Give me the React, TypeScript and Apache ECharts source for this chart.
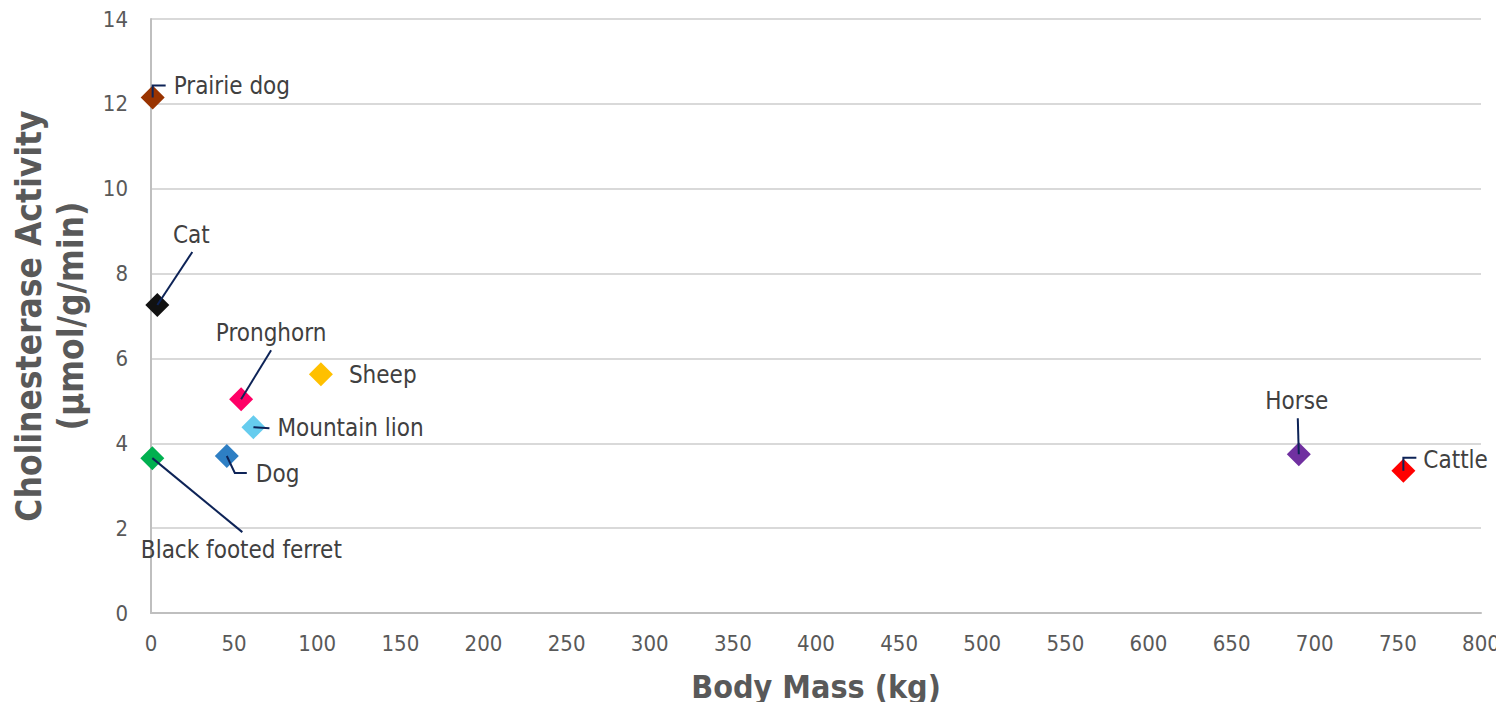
import React, { useEffect, useRef } from "react";
import * as echarts from "echarts";

const animals = [
  "Prairie dog",
  "Cat",
  "Pronghorn",
  "Sheep",
  "Mountain lion",
  "Dog",
  "Black footed ferret",
  "Horse",
  "Cattle",
];
const bodyMass = [1.0, 3.8, 54.2, 102.2, 61.6, 45.6, 0.8, 690.4, 753.3];
const activity = [12.15, 7.26, 5.04, 5.63, 4.38, 3.7, 3.65, 3.74, 3.35];
const colors = [
  "#993300",
  "#111111",
  "#ff0066",
  "#ffc000",
  "#66ccee",
  "#2e7fc4",
  "#00b050",
  "#7030a0",
  "#ff0000",
];

// label layout (pixel offsets from marker centre): text anchor + leader polyline
const labelAlign = ["left", "center", "center", "left", "left", "left", "center", "center", "left"];
const labelDx = [21, 34, 30, 28, 24, 29, 89, -2, 20];
const labelDy = [-11, -70, -66, 1, 1, 18, 92, -53, -11];
const leaders: number[][][] = [
  [[0, 0], [0, -12], [13, -12]],
  [[0, 0], [35, -53]],
  [[0, 0], [30, -49]],
  [],
  [[0, 0], [16, 1]],
  [[0, 0], [8, 17], [20, 17]],
  [[0, 0], [90, 74]],
  [[0, 0], [-1, -36]],
  [[0, 0], [0, -13], [13, -13]],
];

const FONT = "'DejaVu Sans Condensed', 'DejaVu Sans', Tahoma, sans-serif";

export default function App() {
  const ref = useRef<HTMLDivElement>(null);
  useEffect(() => {
    if (!ref.current) return;
    const chart = echarts.init(ref.current, undefined, { renderer: "svg" });
    const points = bodyMass.map((x, i) => [x, activity[i]]);
    chart.setOption({
      animation: false,
      textStyle: { fontFamily: FONT },
      grid: { left: 151, right: 23, top: 19, bottom: 97, outerBoundsMode: "none", containLabel: false },
      xAxis: {
        type: "value",
        min: 0,
        max: 800,
        interval: 50,
        name: "Body Mass (kg)",
        nameLocation: "middle",
        nameGap: 58,
        nameTextStyle: { fontSize: 32, fontWeight: "bold", color: "#595959", fontFamily: FONT },
        axisLine: { show: true, lineStyle: { color: "#bfbfbf", width: 2 } },
        axisTick: { show: false },
        axisLabel: { fontSize: 22, color: "#595959", margin: 19, fontFamily: FONT },
        splitLine: { show: false },
      },
      yAxis: {
        type: "value",
        min: 0,
        max: 14,
        interval: 2,
        name: "Cholinesterase Activity\n(µmol/g/min)",
        nameLocation: "middle",
        nameGap: 55,
        nameTextStyle: {
          fontSize: 35,
          fontWeight: "bold",
          color: "#595959",
          lineHeight: 42,
          fontFamily: FONT,
        },
        axisLine: { show: true, lineStyle: { color: "#bfbfbf", width: 2 } },
        axisTick: { show: false },
        axisLabel: { fontSize: 22, color: "#595959", margin: 23, fontFamily: FONT },
        splitLine: { show: true, lineStyle: { color: "#d9d9d9", width: 2 } },
      },
      series: [
        {
          type: "scatter",
          symbol: "diamond",
          symbolSize: 24,
          data: points.map((p, i) => ({ value: p, itemStyle: { color: colors[i], opacity: 1 } })),
          itemStyle: { opacity: 1 },
          z: 2,
        },
        {
          type: "custom",
          data: points,
          encode: { x: 0, y: 1 },
          clip: false,
          z: 3,
          renderItem: (params: any, api: any) => {
            const i = params.dataIndex;
            const c = api.coord([api.value(0), api.value(1)]);
            const children: any[] = [];
            const pts = leaders[i];
            if (pts.length > 1) {
              children.push({
                type: "polyline",
                shape: { points: pts.map((p) => [c[0] + p[0], c[1] + p[1]]) },
                style: { stroke: "#0d2357", lineWidth: 2, fill: null },
              });
            }
            children.push({
              type: "text",
              x: c[0] + labelDx[i],
              y: c[1] + labelDy[i],
              style: {
                text: animals[i],
                fontSize: 24,
                fontFamily: FONT,
                fill: "#404040",
                align: labelAlign[i],
                verticalAlign: "middle",
              },
            });
            return { type: "group", children };
          },
        },
      ],
    });
    return () => chart.dispose();
  }, []);
  return <div ref={ref} style={{ width: 1504, height: 710, margin: -8 }} />;
}
